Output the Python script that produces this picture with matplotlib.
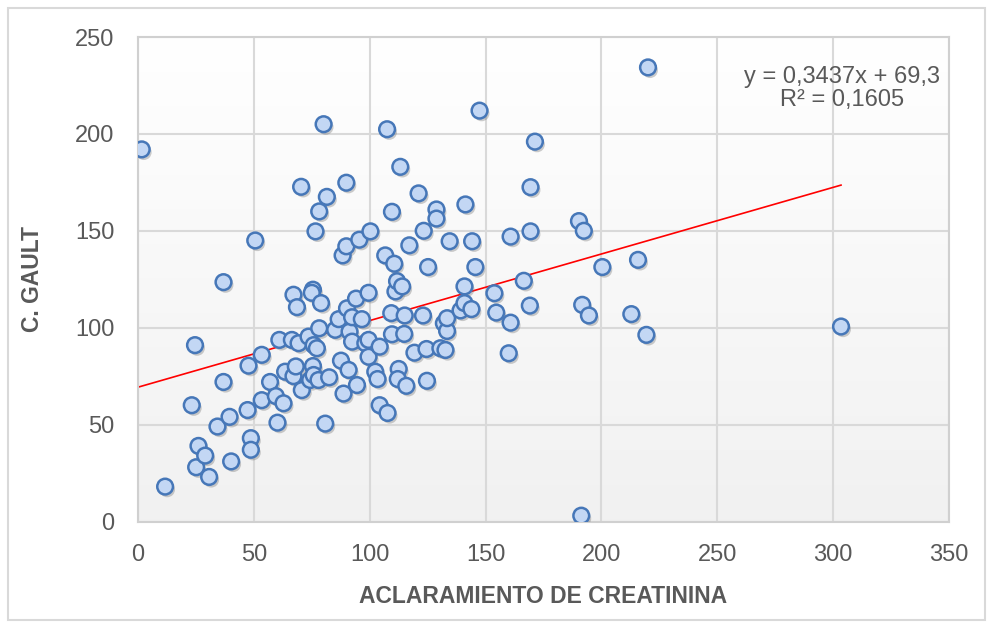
import matplotlib
matplotlib.use("Agg")
import matplotlib.pyplot as plt
import matplotlib.patheffects as pe
import numpy as np
from matplotlib.patches import Rectangle

plt.rcParams["font.family"] = ["Liberation Sans", "DejaVu Sans"]

# aclaramiento de creatinina
clearance = [
    1.6, 11.7, 23.2, 24.6, 25.1, 26.1, 29.0, 30.7, 34.3, 36.9, 36.9, 39.5, 40.2,
    47.3, 47.7, 48.7, 48.7, 50.6, 53.4, 53.4, 57.0, 59.5, 60.2, 61.0, 62.8, 63.5,
    66.4, 67.1, 67.1, 68.1, 68.6, 69.3, 70.4, 70.7, 73.6, 74.3, 75.5, 75.0, 75.5,
    75.8, 75.8, 76.6, 77.2, 77.9, 78.2, 78.2, 79.0, 80.1, 80.8, 81.5, 82.5, 85.1,
    86.6, 87.6, 88.3, 88.7, 89.9, 89.9, 90.2, 90.9, 91.3, 92.4, 92.4, 94.1, 94.5,
    95.5, 96.6, 98.1, 99.5, 99.5, 99.5, 100.3, 102.4, 103.4, 104.3, 104.3, 106.7,
    107.5, 107.7, 109.3, 109.6, 109.6, 110.6, 111.1, 111.8, 112.5, 112.1, 113.2,
    114.0, 114.9, 115.1, 115.8, 117.1, 119.3, 121.1, 123.3, 123.0, 124.5, 124.7,
    125.2, 128.8, 128.8, 130.5, 132.0, 132.7, 133.4, 133.4, 134.5, 139.2, 140.9,
    140.9, 141.3, 143.9, 144.2, 145.6, 147.4, 153.8, 154.6, 160.0, 160.8, 160.8,
    166.5, 169.1, 169.4, 169.4, 171.3, 190.3, 191.7, 191.3, 192.4, 194.6, 200.4,
    212.9, 215.8, 219.4, 220.1, 303.4,
]
# C. Gault
gault = [
    192, 18, 60, 91, 28, 39, 34, 23, 49, 72, 123.5, 54, 31,
    57.5, 80.4, 43, 37, 145, 86, 62.6, 72, 64.7, 51, 93.7, 61, 77.3,
    93.7, 117, 75, 80, 110.6, 92, 172.7, 67.8, 95.4, 73, 119.6, 118, 80.2,
    75.6, 91, 149.7, 89.4, 73, 99.7, 160, 112.7, 205, 50.5, 167.5, 74.4, 98.9,
    104.4, 83, 137.3, 66, 174.8, 142, 110, 78.2, 98, 105.4, 92.8, 115, 70.4,
    145.4, 104.4, 92, 118, 93.7, 85, 149.7, 77.3, 73.5, 90.2, 60, 137.3,
    202.4, 56, 107.5, 96.6, 159.8, 133, 118.7, 124, 78.7, 73.5, 183,
    121.3, 96.8, 106.3, 70, 142.5, 87.1, 169.3, 150, 106.3, 89, 72.6,
    131.3, 161, 156.3, 89.4, 102.3, 88.5, 98.3, 104.9, 144.6, 108.9, 121.3,
    112.7, 163.6, 109.6, 144.6, 131.3, 212, 117.8, 107.8, 86.8, 102.6, 147,
    124.2, 111.4, 149.7, 172.5, 196, 155, 111.8, 3, 150, 106.3, 131.3,
    107, 135, 96.3, 234.3, 100.6,
]

slope = 0.3437
intercept = 69.3
trend_x = [0, 303.4]
x_ticks = [0, 50, 100, 150, 200, 250, 300, 350]
y_ticks = [0, 50, 100, 150, 200, 250]

W, H = 993, 626
fig = plt.figure(figsize=(W / 100, H / 100), dpi=100)
fig.patch.set_facecolor("white")
ax = fig.add_axes([138 / W, (H - 521.5) / H, (949 - 138) / W, (521.5 - 37) / H])

# plot area gradient (white top -> light gray bottom)
shade = np.linspace(1.0, 0.945, 256)
grad = np.dstack([shade, shade, shade]).reshape(256, 1, 3)
ax.imshow(grad, extent=[0, 350, 0, 250], aspect="auto", origin="upper", zorder=0)

ax.set_xlim(0, 350)
ax.set_ylim(0, 250)
ax.set_xticks(x_ticks)
ax.set_yticks(y_ticks)
ax.grid(True, color="#d9d9d9", linewidth=1.5, zorder=1)
ax.set_axisbelow(True)
for sp in ax.spines.values():
    sp.set_color("#d0d0d0")
    sp.set_linewidth(1.5)
ax.tick_params(axis="y", length=0, labelsize=17, labelcolor="#595959", pad=17)
ax.tick_params(axis="x", length=0, labelsize=17, labelcolor="#595959", pad=16)

sc = ax.scatter(clearance, gault, s=128, facecolor="#c3d7f4", edgecolor="#4677b8",
                linewidth=1.8, zorder=3)
sc.set_path_effects([pe.SimplePatchShadow(offset=(1.5, -2), alpha=0.35,
                                          shadow_rgbFace="#707070"), pe.Normal()])

tx = np.array(trend_x)
ax.plot(tx, slope * tx + intercept, color="#ff0000", linewidth=1.2, zorder=2)

ax.text(0.868, 0.94, "y = 0,3437x + 69,3\nR² = 0,1605", transform=ax.transAxes,
        ha="center", va="top", fontsize=17, color="#595959", multialignment="center",
        linespacing=1.05)

ax.set_xlabel("ACLARAMIENTO DE CREATININA", fontsize=16.5, fontweight="bold",
              color="#595959", labelpad=14)
ax.set_ylabel("C. GAULT", fontsize=16.5, fontweight="bold", color="#595959",
              labelpad=22)

fig.patches.append(Rectangle((8 / W, 6 / H), (W - 16) / W, (H - 14) / H,
                             transform=fig.transFigure, fill=False,
                             edgecolor="#d9d9d9", linewidth=1.5))

fig.savefig("out.png", dpi=100)
